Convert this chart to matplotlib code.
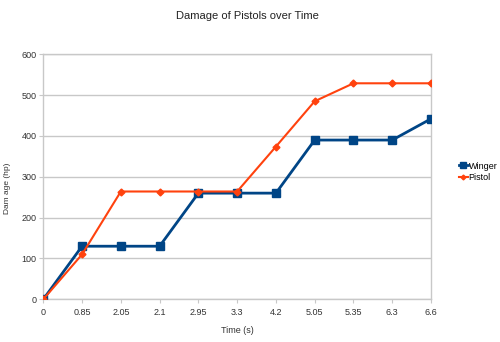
import matplotlib
matplotlib.use("Agg")
import matplotlib.pyplot as plt

times = ["0", "0.85", "2.05", "2.1", "2.95", "3.3", "4.2", "5.05", "5.35", "6.3", "6.6"]
winger = [0, 130, 130, 130, 260, 260, 260, 390, 390, 390, 442]
pistol = [0, 110, 264, 264, 264, 264, 374, 485, 529, 529, 529]
yticks = [0, 100, 200, 300, 400, 500, 600]

plt.rcParams['font.family'] = ['Liberation Sans', 'DejaVu Sans']

fig = plt.figure(figsize=(5.0, 3.42), dpi=100)
ax = fig.add_axes([43.3/500, 1-299.3/342, (431-43.3)/500, (299.3-54.3)/342])

x = list(range(len(times)))
ax.plot(x, winger, color='#004586', marker='s', markersize=6, linewidth=2, label='Winger', zorder=3)
ax.plot(x, pistol, color='#ff420e', marker='D', markersize=3.5, linewidth=1.5, label='Pistol', zorder=4)

ax.set_xlim(0, len(times)-1)
ax.set_ylim(0, 600)
ax.set_xticks(x)
ax.set_xticklabels(times, fontsize=6.5, color='#333333')
ax.set_yticks(yticks)
ax.set_yticklabels([str(v) for v in yticks], fontsize=6.5, color='#333333')
ax.yaxis.grid(True, color='#c8c8c8', linewidth=1)
ax.set_axisbelow(True)
for s in ax.spines.values():
    s.set_color('#c8c8c8')
    s.set_linewidth(1)
ax.tick_params(axis='x', length=3, color='#c8c8c8', pad=3)
ax.tick_params(axis='y', length=3, color='#c8c8c8', pad=2)

ax.set_xlabel('Time (s)', fontsize=6.5, color='#333333', labelpad=7)
ax.set_ylabel('Dam age (hp)', fontsize=6, color='#333333', va='center')
ax.yaxis.set_label_coords(-0.093, 0.454)
fig.text(0.494, 1-16/342, 'Damage of Pistols over Time', ha='center', va='center', fontsize=8, color='#222222')

leg = ax.legend(loc='center left', bbox_to_anchor=(1.06, 0.52), frameon=False, fontsize=6.5,
                handlelength=1.0, handletextpad=0.1, borderpad=0, labelspacing=0.3, markerscale=0.7)

fig.savefig('out.png', dpi=100)
